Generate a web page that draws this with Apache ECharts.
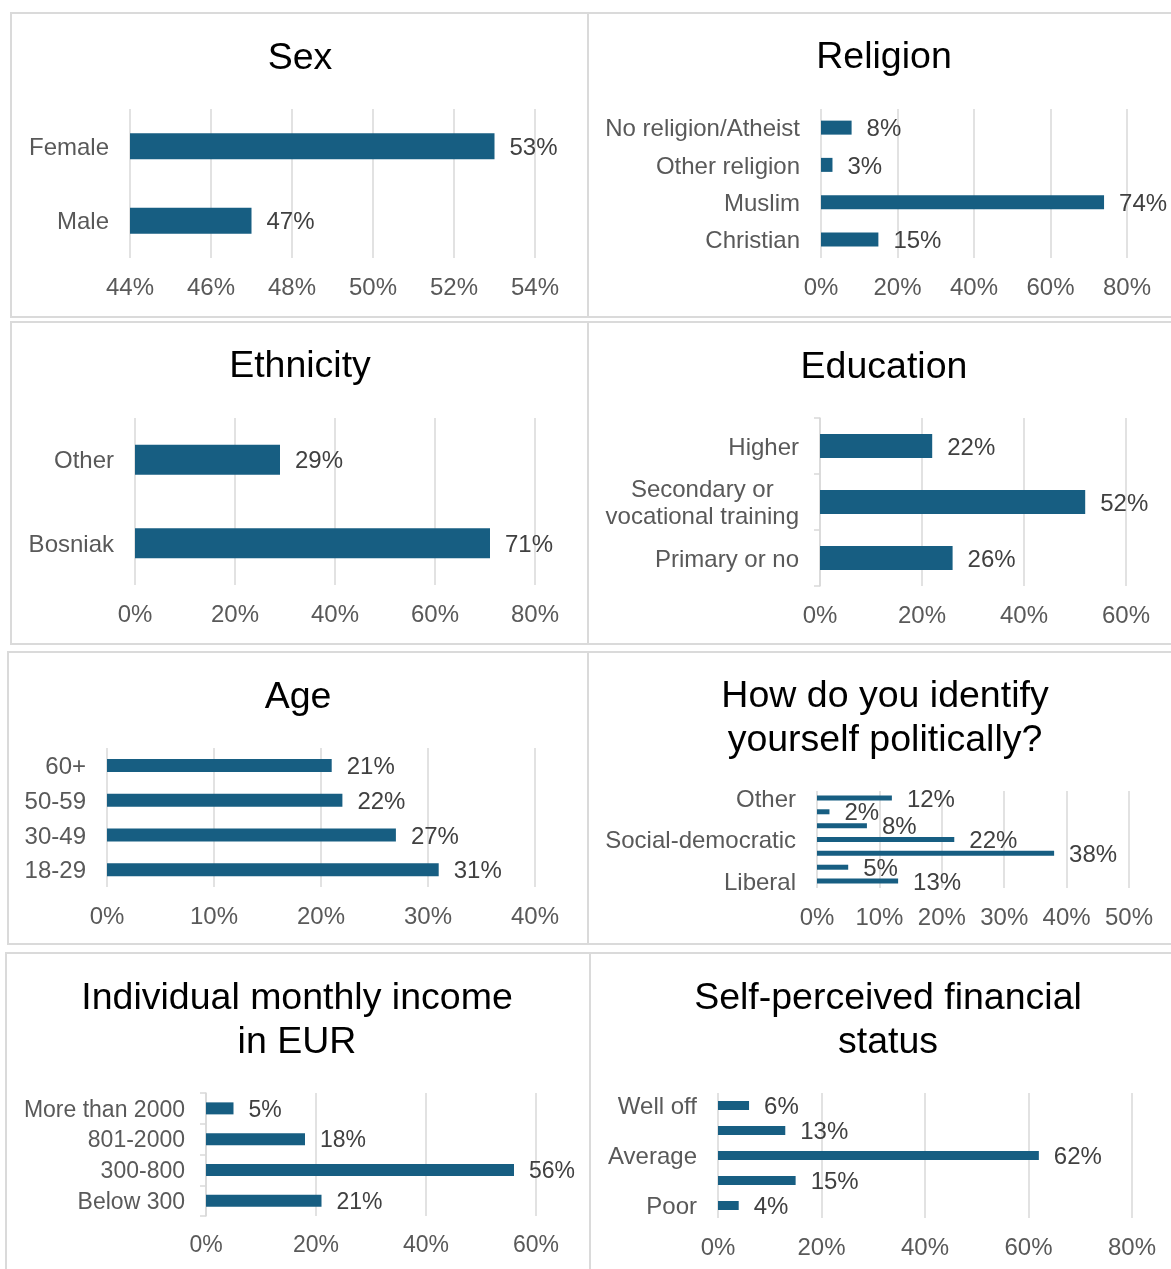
<!DOCTYPE html>
<html>
<head>
<meta charset="utf-8">
<title>Sample profile</title>
<script src="https://cdn.jsdelivr.net/npm/echarts@6/dist/echarts.min.js"></script>
<style>
  html, body { margin: 0; padding: 0; background: #ffffff; }
  #chart { width: 1171px; height: 1269px; }
</style>
</head>
<body>
<div id="chart"></div>
<script>
// ---- Data (shares in percent, listed top to bottom) ----
const sexCategories = ['Female', 'Male'];
const sexValues = [53, 47];
const sexTicks = { min: 44, max: 54, interval: 2 };

const religionCategories = ['No religion/Atheist', 'Other religion', 'Muslim', 'Christian'];
const religionValues = [8, 3, 74, 15];
const religionTicks = { min: 0, max: 80, interval: 20 };

const ethnicityCategories = ['Other', 'Bosniak'];
const ethnicityValues = [29, 71];
const ethnicityTicks = { min: 0, max: 80, interval: 20 };

const educationCategories = ['Higher', 'Secondary or\nvocational training', 'Primary or no'];
const educationValues = [22, 52, 26];
const educationTicks = { min: 0, max: 60, interval: 20 };

const ageCategories = ['60+', '50-59', '30-49', '18-29'];
const ageValues = [21, 22, 27, 31];
const ageTicks = { min: 0, max: 40, interval: 10 };

// only every third row carries a printed label
const politicsCategories = ['Other', '', '', 'Social-democratic', '', '', 'Liberal'];
const politicsValues = [12, 2, 8, 22, 38, 5, 13];
const politicsTicks = { min: 0, max: 50, interval: 10 };

const incomeCategories = ['More than 2000', '801-2000', '300-800', 'Below 300'];
const incomeValues = [5, 18, 56, 21];
const incomeTicks = { min: 0, max: 60, interval: 20 };

// only every second row carries a printed label
const financeCategories = ['Well off', '', 'Average', '', 'Poor'];
const financeValues = [6, 13, 62, 15, 4];
const financeTicks = { min: 0, max: 80, interval: 20 };

// ---- Styling ----
const FONT = '"Liberation Sans", Arial, sans-serif';
const BAR = '#175E82';
const GRID_LINE = '#d9d9d9';
const AXIS_TEXT = '#595959';
const VALUE_TEXT = '#404040';
const BORDER = '#dadada';

// Panel layout: frame box, title, plot area, text size
const panels = [
  { title: 'Sex', cats: sexCategories, vals: sexValues, ticks: sexTicks,
    box: [11, 13, 577, 304], titleX: 300, titleY: 37,
    grid: [130, 109, 405, 149], barWidth: 26, axisTicks: false, fs: 24 },
  { title: 'Religion', cats: religionCategories, vals: religionValues, ticks: religionTicks,
    box: [588, 13, 620, 304], titleX: 884, titleY: 36,
    grid: [821, 109, 306, 149], barWidth: 14, axisTicks: false, fs: 24 },
  { title: 'Ethnicity', cats: ethnicityCategories, vals: ethnicityValues, ticks: ethnicityTicks,
    box: [11, 322, 577, 322], titleX: 300, titleY: 345,
    grid: [135, 418, 400, 167], barWidth: 30, axisTicks: false, fs: 24 },
  { title: 'Education', cats: educationCategories, vals: educationValues, ticks: educationTicks,
    box: [588, 322, 620, 322], titleX: 884, titleY: 346,
    grid: [820, 418, 306, 168], barWidth: 24, axisTicks: true, fs: 24 },
  { title: 'Age', cats: ageCategories, vals: ageValues, ticks: ageTicks,
    box: [8, 652, 580, 292], titleX: 298, titleY: 676,
    grid: [107, 748, 428, 139], barWidth: 13, axisTicks: false, fs: 24 },
  { title: 'How do you identify\nyourself politically?', cats: politicsCategories, vals: politicsValues, ticks: politicsTicks,
    box: [588, 652, 620, 292], titleX: 885, titleY: 675,
    grid: [817, 791, 312, 97], barWidth: 5, axisTicks: false, fs: 24 },
  { title: 'Individual monthly income\nin EUR', cats: incomeCategories, vals: incomeValues, ticks: incomeTicks,
    box: [6, 953, 584, 340], titleX: 297, titleY: 977,
    grid: [206, 1093, 330, 123], barWidth: 12, axisTicks: true, fs: 23 },
  { title: 'Self-perceived financial\nstatus', cats: financeCategories, vals: financeValues, ticks: financeTicks,
    box: [590, 953, 620, 340], titleX: 888, titleY: 977,
    grid: [718, 1093, 414, 125], barWidth: 9, axisTicks: false, fs: 24 }
];

const titles = [], grids = [], xAxes = [], yAxes = [], series = [], frames = [];

panels.forEach((p, i) => {
  frames.push({
    type: 'rect',
    shape: { x: p.box[0], y: p.box[1], width: p.box[2], height: p.box[3] },
    style: { fill: 'none', stroke: BORDER, lineWidth: 2 },
    silent: true, z: -10
  });

  titles.push({
    text: p.title,
    left: p.titleX, top: p.titleY,
    textAlign: 'center',
    padding: 0,
    textStyle: { fontFamily: FONT, fontSize: 37.5, fontWeight: 'normal', color: '#000000', lineHeight: 44 }
  });

  grids.push({
    left: p.grid[0], top: p.grid[1], width: p.grid[2], height: p.grid[3],
    containLabel: false, outerBoundsMode: 'none'
  });

  xAxes.push({
    type: 'value', gridIndex: i,
    min: p.ticks.min, max: p.ticks.max, interval: p.ticks.interval,
    axisLine: { show: false }, axisTick: { show: false },
    splitLine: { show: true, lineStyle: { color: GRID_LINE, width: 1.5 } },
    axisLabel: { formatter: '{value}%', color: AXIS_TEXT, fontFamily: FONT, fontSize: p.fs, margin: 18 }
  });

  yAxes.push({
    type: 'category', gridIndex: i, inverse: true,
    data: p.cats,
    axisLine: { show: p.axisTicks, lineStyle: { color: GRID_LINE, width: 1.5 } },
    axisTick: { show: p.axisTicks, length: 6, lineStyle: { color: GRID_LINE, width: 1.5 } },
    axisLabel: {
      interval: 0, margin: 21, color: AXIS_TEXT, fontFamily: FONT, fontSize: p.fs,
      padding: [4, 0, 0, 0],
      formatter: (v) => v.split('\n').map(s => '{c|' + s + '}').join('\n'),
      rich: { c: { align: 'center', color: AXIS_TEXT, fontFamily: FONT, fontSize: p.fs, lineHeight: 27 } }
    }
  });

  series.push({
    type: 'bar', xAxisIndex: i, yAxisIndex: i,
    data: p.vals,
    barWidth: p.barWidth,
    clip: true,
    itemStyle: { color: BAR },
    label: {
      show: true, position: 'right', distance: 15, offset: [0, 2],
      formatter: '{c}%', color: VALUE_TEXT, fontFamily: FONT, fontSize: p.fs
    },
    emphasis: { disabled: true },
    animation: false
  });
});

const chart = echarts.init(document.getElementById('chart'), null, { renderer: 'canvas' });
chart.setOption({
  backgroundColor: '#ffffff',
  animation: false,
  title: titles,
  grid: grids,
  xAxis: xAxes,
  yAxis: yAxes,
  series: series,
  graphic: frames
});
</script>
</body>
</html>
